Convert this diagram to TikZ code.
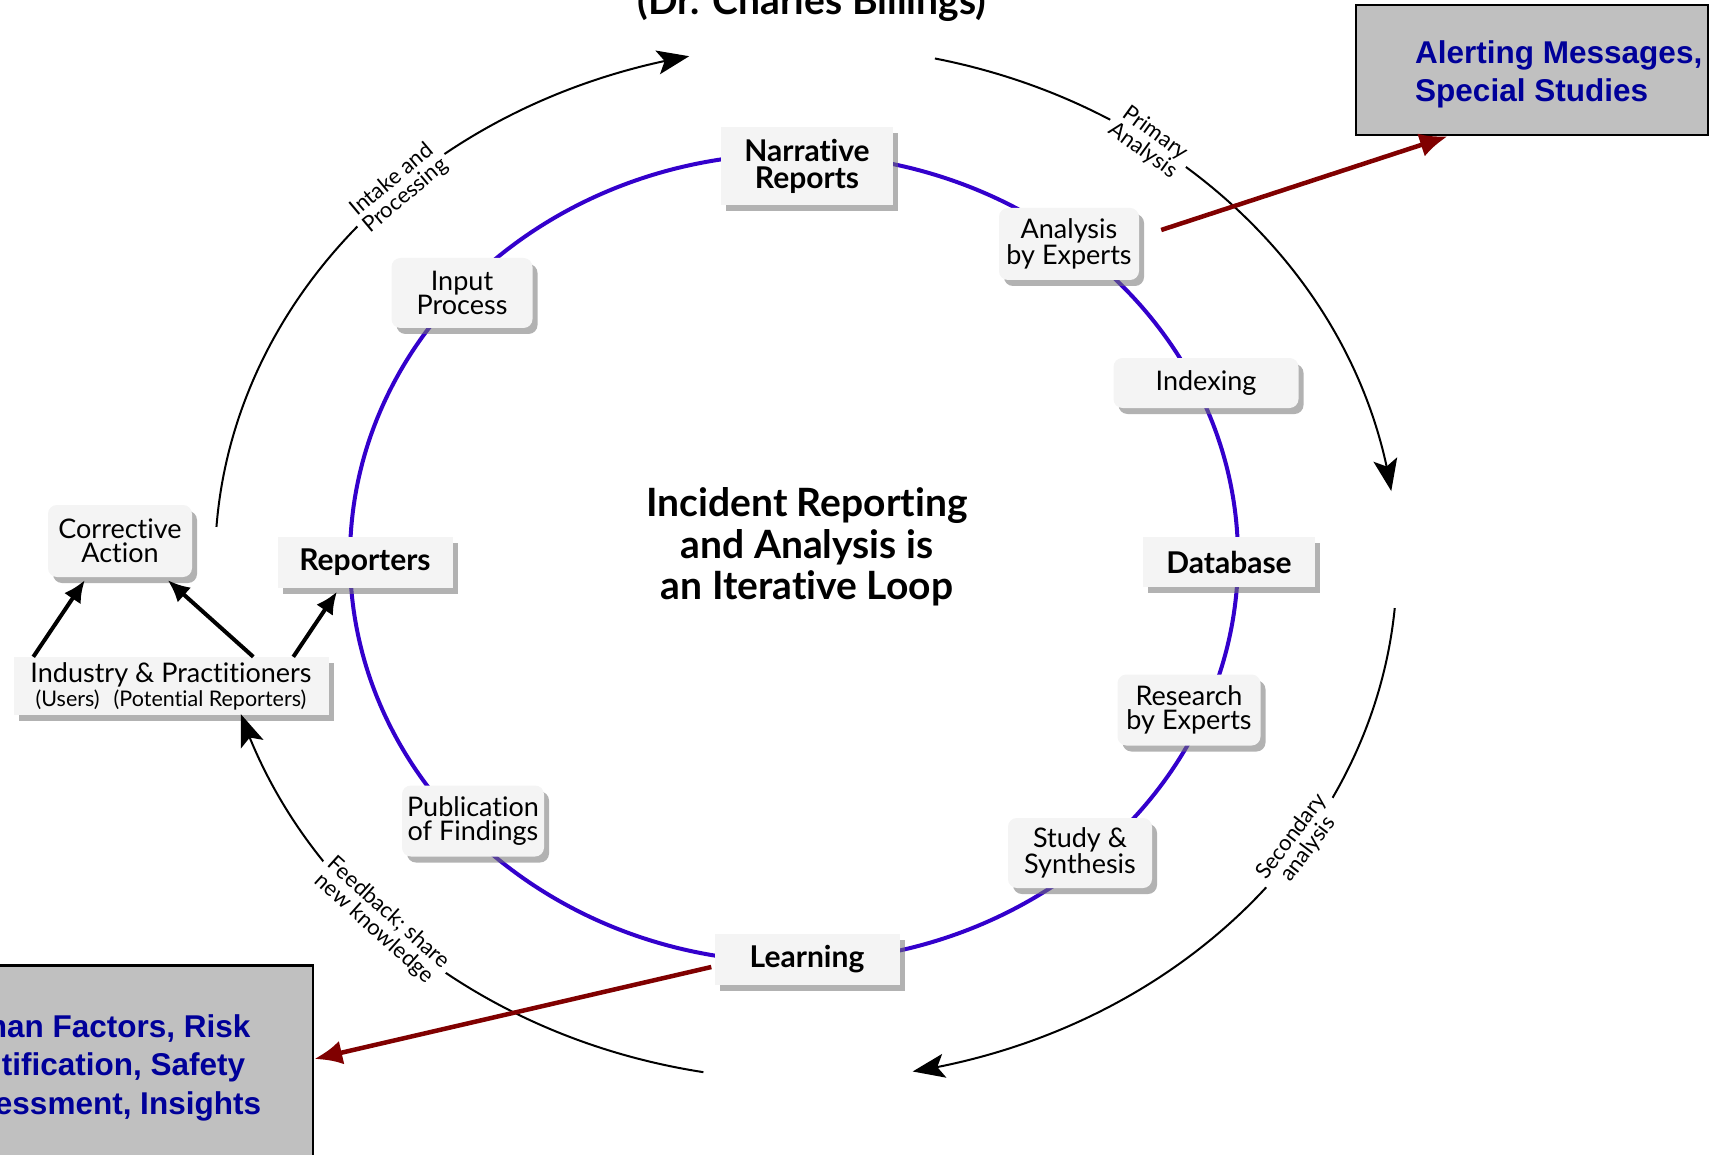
\documentclass[tikz,border=0pt]{standalone}
\usepackage{fontspec}
\setmainfont{Lato}[Ligatures=CommonOff]
\newfontfamily\arialfont{Liberation Sans}
\usetikzlibrary{arrows.meta,bending,shadows}
\definecolor{loopblue}{RGB}{51,0,204}
\definecolor{boxgray}{RGB}{244,244,244}
\definecolor{notegray}{RGB}{192,192,192}
\definecolor{notetext}{RGB}{0,0,153}
\definecolor{darkred}{RGB}{128,0,0}

\begin{document}
\begin{tikzpicture}[x=1pt,y=1pt]
\def \rx {591}
\def \ry {517}
\clip (0,0) rectangle (1715,-1155);
\fill[white] (0,0) rectangle (1715,-1155);
   \tikzset{StageBox/.style = {fill=boxgray, rounded corners=9pt, align=center, inner sep=0pt,
            font=\fontsize{27}{24}\selectfont,
            drop shadow={shadow xshift=5pt, shadow yshift=-6pt, fill=black!55, opacity=.55}}}
   \tikzset{KeyBox/.style = {StageBox, rounded corners=0pt, font=\fontsize{30}{27}\selectfont\bfseries}}
   \tikzset{ArcLabel/.style = {fill=white, inner sep=5pt, align=center, font=\fontsize{22}{21}\selectfont}}
   \tikzset{OuterArc/.style = {line width=2pt, -{Stealth[length=32pt,width=24pt,inset=7pt]}}}
   \tikzset{UpArrow/.style = {line width=4pt, -{Latex[length=22pt,width=20pt]}}}
   \tikzset{RedArrow/.style = {darkred, line width=4.5pt, -{Latex[length=28pt,width=24pt]}}}
   \tikzset{NoteBox/.style = {draw=black, line width=2.5pt, fill=notegray}}
   \tikzset{NoteText/.style = {anchor=north west, align=left, text=notetext, inner sep=0pt,
            font=\arialfont\fontsize{31.5}{38.5}\selectfont\bfseries}}
% title, cut at the top
   \node[anchor=base, font=\fontsize{39}{40}\selectfont\bfseries] (title) at (812,-15) {(Dr. Charles Billings)};
% the loop
   \draw[loopblue, line width=4pt] (794,-558) ellipse [x radius=444pt, y radius=404pt];
   \node[KeyBox, minimum width=172pt, minimum height=78pt] (NR) at (807,-166) {Narrative\\Reports};
   \node[StageBox, minimum width=140pt, minimum height=72pt] (AE) at (1069,-244) {Analysis\\by Experts};
   \node[StageBox, minimum width=185pt, minimum height=50pt] (IX) at (1206,-383) {Indexing};
   \node[KeyBox, minimum width=172pt, minimum height=50pt] (DB) at (1229,-562) {Database};
   \node[StageBox, minimum width=143pt, minimum height=71pt] (RE) at (1189,-710) {Research\\by Experts};
   \node[StageBox, minimum width=144pt, minimum height=70pt] (SS) at (1080,-853) {Study \&\\Synthesis};
   \node[KeyBox, minimum width=185pt, minimum height=51pt] (LE) at (807,-959) {Learning};
   \node[StageBox, minimum width=142pt, minimum height=71pt] (PF) at (473,-821) {Publication\\of Findings};
   \node[KeyBox, minimum width=175pt, minimum height=51pt] (RP) at (365,-562) {Reporters};
   \node[StageBox, minimum width=141pt, minimum height=70pt] (IP) at (462,-293) {Input\\Process};
   \node[align=center, font=\fontsize{39}{41.5}\selectfont\bfseries] (loop) at (807,-547)
        {Incident Reporting\\and Analysis is\\an Iterative Loop};
% users
   \node[StageBox, minimum width=144pt, minimum height=72pt] (CA) at (120,-541) {Corrective\\Action};
   \node[StageBox, rounded corners=0pt, minimum width=315pt, minimum height=58pt] (IN) at (171,-686)
        {Industry \& Practitioners\\{\fontsize{21.5}{23}\selectfont(Users)\hspace{14pt}(Potential Reporters)}};
   \draw[UpArrow] ([xshift=20pt]IN.north west) -- ([xshift=37pt,yshift=-3pt]CA.south west);
   \draw[UpArrow] ([xshift=240pt]IN.north west) -- ([xshift=120pt,yshift=-3pt]CA.south west);
   \draw[UpArrow] ([xshift=280pt]IN.north west) -- ([xshift=-28pt,yshift=-4pt]RP.south);
% outer cycle
   \draw[OuterArc] (806,-563) ++(176:\rx pt and \ry pt) arc [start angle=176, end angle=101.4, x radius=\rx pt, y radius=\ry pt];
   \draw[OuterArc] (806,-563) ++(77.4:\rx pt and \ry pt) arc [start angle=77.4, end angle=8, x radius=\rx pt, y radius=\ry pt];
   \draw[OuterArc] (806,-563) ++(-5:\rx pt and \ry pt) arc [start angle=-5, end angle=-79.6, x radius=\rx pt, y radius=\ry pt];
   \draw[OuterArc] (806,-563) ++(260:\rx pt and \ry pt) arc [start angle=260, end angle=197, x radius=\rx pt, y radius=\ry pt];
   \node[ArcLabel, rotate=40] (intake) at (399,-188) {Intake and\\Processing};
   \node[ArcLabel, rotate=-36] (primary) at (1149,-142) {Primary\\Analysis};
   \node[ArcLabel, rotate=53] (second) at (1300,-843) {Secondary\\analysis};
   \node[ArcLabel, rotate=-42] (feed) at (381,-921) {Feedback; share\\new knowledge};
% outputs
   \node[NoteBox, minimum width=352pt, minimum height=130pt] (alertbox) at (1532,-70) {};
   \node[NoteText] (alert) at (1415,-40) {Alerting Messages,\\Special Studies};
   \node[NoteBox, minimum width=435pt, minimum height=209pt] (hfbox) at (95.5,-1070) {};
   \node[NoteText] (hf) at (-63,-1014) {Human Factors, Risk\\Identification, Safety\\Assessment, Insights};
   \draw[RedArrow] ([xshift=22pt,yshift=14pt]AE.east) -- ([xshift=93pt]alertbox.south west);
   \draw[RedArrow] ([xshift=-3pt,yshift=-8pt]LE.west) -- ([yshift=11pt]hfbox.east);
\end{tikzpicture}
\end{document}
